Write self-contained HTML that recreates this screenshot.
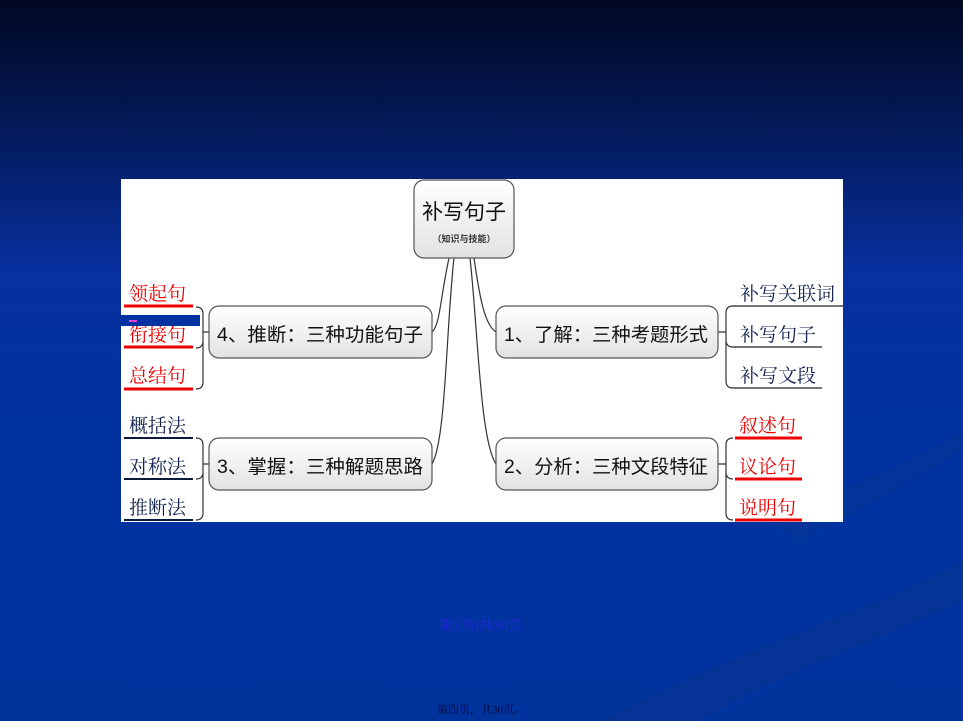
<!DOCTYPE html>
<html><head><meta charset="utf-8"><style>
html,body{margin:0;padding:0;width:963px;height:721px;overflow:hidden}
body{background:linear-gradient(180deg,#010822 0%,#041a5a 18%,#0730a0 38%,#0033a0 60%,#00339c 100%);position:relative;font-family:"Liberation Sans","Noto Sans CJK SC",sans-serif}
svg{position:absolute;left:0;top:0}
</style></head><body>
<svg width="963" height="721" viewBox="0 0 963 721">
<defs>
<linearGradient id="nb" x1="0" y1="0" x2="0" y2="1"><stop offset="0" stop-color="#ffffff"/><stop offset="1" stop-color="#e2e2e2"/></linearGradient>
</defs>
<path d="M600 721 C760 640 900 600 963 560 L963 600 C880 640 760 680 700 721Z" fill="#0a3590" opacity="0.5"/>
<path d="M760 520 C900 470 950 440 963 430 L963 450 C930 470 880 500 800 540Z" fill="#0a3590" opacity="0.4"/>
<rect x="121" y="179" width="722" height="343" fill="#fff"/>
<g fill="none" stroke="#333" stroke-width="1.2">
<path d="M449 258 C440 300 440 325 432 332"/>
<path d="M454 258 C446 330 446 440 432 464"/>
<path d="M474 258 C480 300 485 325 496 332"/>
<path d="M470 258 C478 330 480 440 496 464"/>
<path d="M203 332 H209 M196 307 Q203 307 203 314 V382 Q203 389 196 389 M196 348 Q203 348 203 341"/>
<path d="M203 464 H209 M196 438 Q203 438 203 445 V513 Q203 520 196 520 M196 479 Q203 479 203 472"/>
<path d="M718 332 H726 M733 306 Q726 306 726 313 V381 Q726 388 733 388 M733 347 Q726 347 726 340"/>
<path d="M718 464 H726 M733 438 Q726 438 726 445 V513 Q726 520 733 520 M733 479 Q726 479 726 472"/>
</g>
<g stroke="#555" stroke-width="1.2" fill="url(#nb)">
<rect x="414" y="180" width="100" height="78" rx="10"/>
<rect x="209" y="306" width="223" height="52" rx="10"/>
<rect x="209" y="438" width="223" height="52" rx="10"/>
<rect x="496" y="306" width="222" height="52" rx="10"/>
<rect x="496" y="438" width="222" height="52" rx="10"/>
</g>
<g font-family="'Liberation Sans','Noto Sans CJK SC',sans-serif" fill="#111">
<text x="464" y="219" font-size="21" text-anchor="middle">补写句子</text>
<text x="464" y="242" font-size="9" text-anchor="middle" font-weight="bold" fill="#333">（知识与技能）</text>
<text x="217" y="341" font-size="19" textLength="206" lengthAdjust="spacingAndGlyphs">4、推断：三种功能句子</text>
<text x="217" y="473" font-size="19" textLength="206" lengthAdjust="spacingAndGlyphs">3、掌握：三种解题思路</text>
<text x="504" y="341" font-size="19" textLength="204" lengthAdjust="spacingAndGlyphs">1、了解：三种考题形式</text>
<text x="504" y="473" font-size="19" textLength="204" lengthAdjust="spacingAndGlyphs">2、分析：三种文段特征</text>
</g>
<g font-family="'Noto Serif CJK SC','WenQuanYi Zen Hei',serif" font-size="19">
<g fill="#e00">
<text x="129" y="300">领起句</text><text x="129" y="341">衔接句</text><text x="129" y="382">总结句</text>
<text x="739" y="432">叙述句</text><text x="739" y="473">议论句</text><text x="739" y="514">说明句</text>
</g>
<g fill="#102050">
<text x="129" y="432">概括法</text><text x="129" y="473">对称法</text><text x="129" y="514">推断法</text>
<text x="740" y="300">补写关联词</text><text x="740" y="341">补写句子</text><text x="740" y="382">补写文段</text>
</g>
</g>
<g stroke="#e00" stroke-width="3">
<path d="M124 306 H193 M124 347 H193 M124 389 H193 M735 438 H802 M735 479 H802 M735 520 H802"/>
</g>
<g stroke="#0a1a3a" stroke-width="2">
<path d="M124 438 H193 M124 479 H193 M124 520 H193"/>
</g>
<g stroke="#222" stroke-width="1.2">
<path d="M733 306 H843 M733 347 H822 M733 388 H822"/>
</g>
<rect x="120" y="315" width="80" height="11" fill="#0033a0"/>
<rect x="129" y="320" width="8" height="2" fill="#e040e0"/>
<text x="481" y="630" font-size="14" fill="#1a2ad0" text-anchor="middle" font-family="'Liberation Sans','Noto Sans CJK SC',sans-serif">第3页/共30页</text>
<text x="481" y="713" font-size="11" fill="#000a40" text-anchor="middle" font-family="'Liberation Serif','Noto Serif CJK SC',serif">第四页，共30页。</text>
</svg>
</body></html>
